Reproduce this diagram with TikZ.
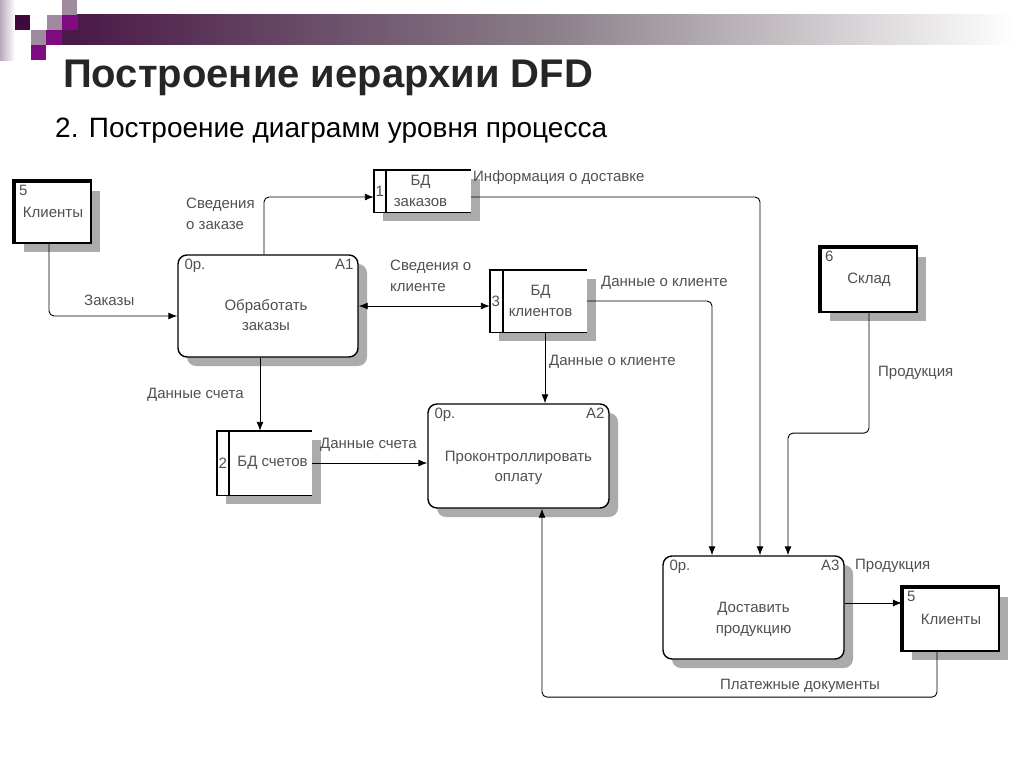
\documentclass[tikz,border=0pt]{standalone}
\usepackage{fontspec}
\setmainfont{Liberation Sans}
\usetikzlibrary{arrows.meta,calc,shadows}
\definecolor{pdark}{HTML}{4A1A48}
\definecolor{pdeep}{HTML}{3D0A3D}
\definecolor{pmag}{HTML}{800A80}
\definecolor{pgrey}{HTML}{A08AA0}
\definecolor{pmid}{HTML}{8A7E88}
\definecolor{pstrip}{HTML}{BCA9BC}
\definecolor{txt}{HTML}{505050}
\begin{document}
\begin{tikzpicture}[x=1pt,y=-1pt,
  shd/.style={drop shadow={shadow xshift=9pt,shadow yshift=-9pt,fill=black!33,opacity=1}},
  proc/.style={draw,line width=1.4,rounded corners=9,fill=white,shd,inner sep=0},
  store/.style={fill=white,shd,inner sep=0},
  ext/.style={draw,line width=2.2,fill=white,shd,inner sep=0,font=\fontsize{15}{17}\selectfont,text=txt},
  lbl/.style={font=\fontsize{15}{20.5}\selectfont,text=txt,inner sep=0,anchor=west,align=left},
  ptxt/.style={font=\fontsize{15}{20.5}\selectfont,text=txt,inner sep=0,align=center},
  corner/.style={font=\fontsize{15}{17}\selectfont,text=txt,inner sep=0},
  flow/.style={-{Latex[length=9,width=7]},line width=0.9,rounded corners=5},
  flowb/.style={{Latex[length=9,width=7]}-{Latex[length=9,width=7]},line width=0.9},
  thick4/.style={line width=4.5}
]
\useasboundingbox (0,0) rectangle (1024,768);
% header
\shade[left color=pstrip,right color=white] (0,0) rectangle (15,60);
\shade[left color=pdark,right color=white,middle color=pmid] (77,15) rectangle (1015,45);
\fill[pdark] (62,30) rectangle (77.5,45);
\fill[pdeep] (15,15) rectangle (30,30);
\fill[pgrey] (47,15) rectangle (62,30);
\fill[pgrey] (62,0) rectangle (77,15);
\fill[pmag] (62,15) rectangle (77.5,30);
\fill[pgrey] (31,30) rectangle (46,45);
\fill[pmag] (46,30) rectangle (62,45);
\fill[pmag] (31,45) rectangle (46,60);
% titles
\node[anchor=west,inner sep=0,font=\fontsize{40}{44}\bfseries\selectfont,text=black!85] (title) at (63,78) {Построение иерархии DFD};
\node[anchor=west,inner sep=0,font=\fontsize{28}{32}\selectfont] (subtitle) at (55,131) {2. Построение диаграмм уровня процесса};

% external entities
\node[ext,minimum width=76,minimum height=61] (c1) at (53,212.5) {Клиенты};
\draw[thick4] (c1.south west) -- (c1.north west) -- (c1.north east);
\node[corner,anchor=north west] (c1n) at ($(c1.north west)+(5,4)$) {5};

\node[ext,minimum width=96,minimum height=63] (c2) at (951,619.5) {Клиенты};
\draw[thick4] (c2.south west) -- (c2.north west) -- (c2.north east);
\node[corner,anchor=north west] (c2n) at ($(c2.north west)+(5,4)$) {5};

\node[ext,minimum width=96,minimum height=64] (sk) at (869,280) {Склад};
\draw[thick4] (sk.south west) -- (sk.north west) -- (sk.north east);
\node[corner,anchor=north west] (skn) at ($(sk.north west)+(5,4)$) {6};

% processes
\node[proc,minimum width=180,minimum height=102] (a1) at (268,306) {};
\node[corner,anchor=north west] (a1l) at ($(a1.north west)+(7,5)$) {0р.};
\node[corner,anchor=north east] (a1r) at ($(a1.north east)+(-5,5)$) {A1};
\node[ptxt] (a1t) at ($(a1.center)+(-2,9)$) {Обработать\\заказы};

\node[proc,minimum width=181,minimum height=104] (a2) at (518.5,456) {};
\node[corner,anchor=north west] (a2l) at ($(a2.north west)+(7,5)$) {0р.};
\node[corner,anchor=north east] (a2r) at ($(a2.north east)+(-5,5)$) {A2};
\node[ptxt] (a2t) at ($(a2.center)+(0,12)$) {Проконтроллировать\\оплату};

\node[proc,minimum width=181,minimum height=103] (a3) at (753.5,607.5) {};
\node[corner,anchor=north west] (a3l) at ($(a3.north west)+(7,5)$) {0р.};
\node[corner,anchor=north east] (a3r) at ($(a3.north east)+(-5,5)$) {A3};
\node[ptxt] (a3t) at ($(a3.center)+(0,12)$) {Доставить\\продукцию};

% stores
\node[store,minimum width=97,minimum height=42] (s1) at (422.5,191) {};
\draw[line width=1.4] (s1.north east) -- (s1.north west) -- (s1.south west) -- (s1.south east);
\draw[line width=1.4] ($(s1.north west)+(12,0)$) -- ($(s1.south west)+(12,0)$);
\node[corner] (s1n) at ($(s1.west)+(6,0)$) {1};
\node[ptxt] (s1t) at ($(s1.center)+(-2,0)$) {БД\\заказов};

\node[store,minimum width=97,minimum height=62] (s3) at (538.5,301) {};
\draw[line width=1.4] (s3.north east) -- (s3.north west) -- (s3.south west) -- (s3.south east);
\draw[line width=1.4] ($(s3.north west)+(13,0)$) -- ($(s3.south west)+(13,0)$);
\node[corner] (s3n) at ($(s3.west)+(6,0)$) {3};
\node[ptxt] (s3t) at ($(s3.center)+(2,0)$) {БД\\клиентов};

\node[store,minimum width=95,minimum height=64] (s2) at (264.5,463) {};
\draw[line width=1.4] (s2.north east) -- (s2.north west) -- (s2.south west) -- (s2.south east);
\draw[line width=1.4] ($(s2.north west)+(12,0)$) -- ($(s2.south west)+(12,0)$);
\node[corner] (s2n) at ($(s2.west)+(6,0)$) {2};
\node[ptxt] (s2t) at ($(s2.center)+(8,0)$) {БД счетов};

% flows
\draw[flow] ([xshift=-4]c1.south) |- ([yshift=-10]a1.west);
\draw[flow] ([xshift=-4]a1.north) |- ([yshift=-6]s1.west);
\draw[flowb] (a1.east) -- (a1.east -| s3.west);
\draw[flow] ([yshift=-6]s1.east) -| ([xshift=6.5]a3.north);
\draw[flow] (s3.east) -| ([xshift=-41.5]a3.north);
\draw[flow] ([xshift=6.5]s3.south) -- ([xshift=6.5]s3.south |- a2.north);
\draw[flow] ([xshift=-8]a1.south) -- ([xshift=-8]a1.south |- s2.north);
\draw[flow] (s2.east) -- (s2.east -| a2.west);
\draw[flow] (sk.south) -- ++(0,120) -| ([xshift=34.5]a3.north);
\draw[flow] ([yshift=4.5]a3.east) -- ([yshift=4.5]a3.east -| c2.west);
\draw[flow] ([xshift=-14]c2.south) -- ++(0,45) -| ([xshift=23.5]a2.south);

% labels
\node[lbl] (l1) at (84,300) {Заказы};
\node[lbl] (l2) at (186,214) {Сведения\\о заказе};
\node[lbl] (l3) at (390,276) {Сведения о\\клиенте};
\node[lbl] (l4) at (473,178) {Информация о доставке};
\node[lbl] (l5) at (601,283) {Данные о клиенте};
\node[lbl] (l6) at (549,362) {Данные о клиенте};
\node[lbl] (l7) at (147,395) {Данные счета};
\node[lbl] (l8) at (320,445) {Данные счета};
\node[lbl] (l9) at (878,373) {Продукция};
\node[lbl] (l10) at (855,566) {Продукция};
\node[lbl] (l11) at (720,686) {Платежные документы};
\end{tikzpicture}
\end{document}
